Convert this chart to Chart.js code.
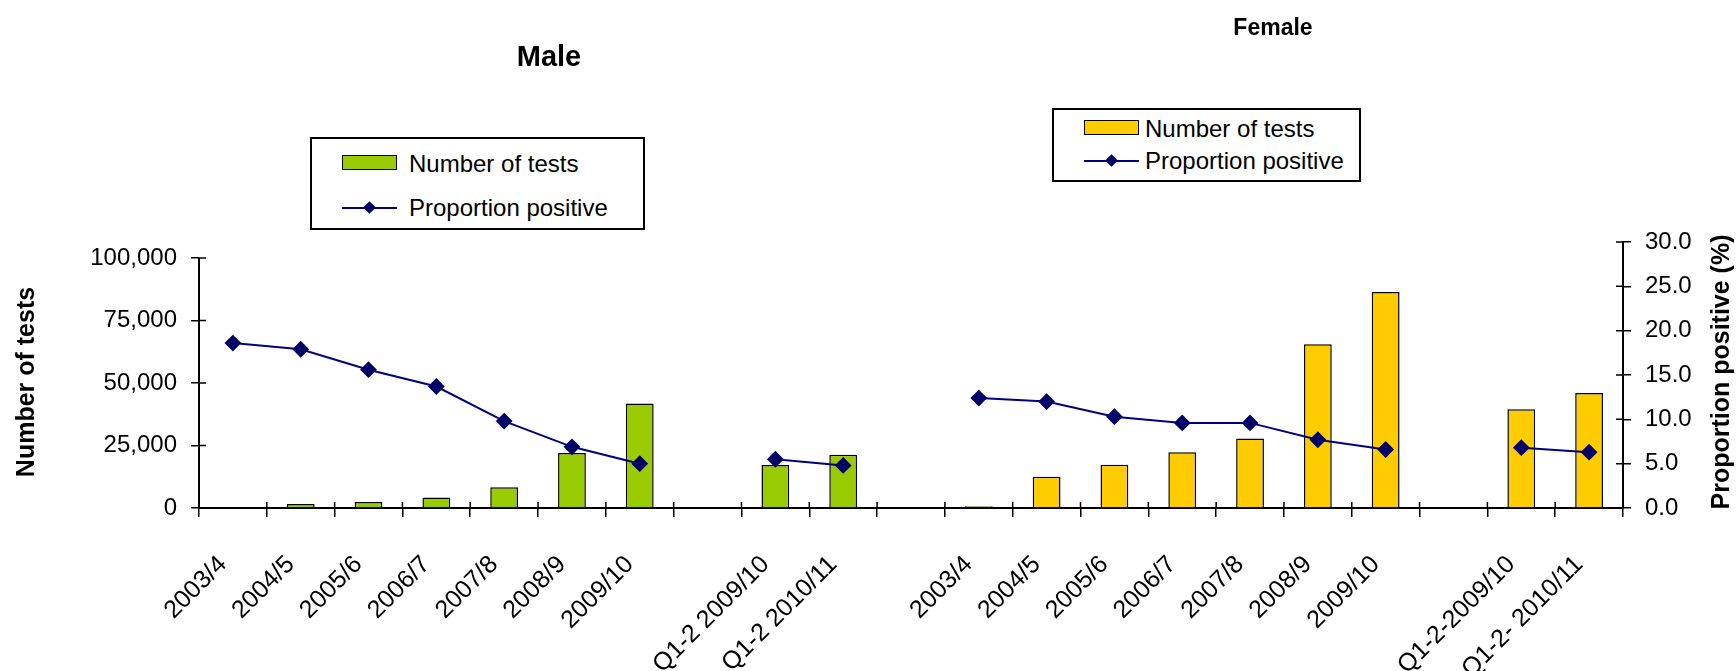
<!DOCTYPE html>
<html>
<head>
<meta charset="utf-8">
<script src="https://cdn.jsdelivr.net/npm/chart.js@4.4.1/dist/chart.umd.min.js"></script>
<style>
    body { margin: 0; background: #fff; overflow: hidden; font-family: "Liberation Sans", Arial, sans-serif; color: #000; }
    #wrap { position: relative; width: 1736px; height: 671px; }
    #myChart { position: absolute; left: 0; top: 0; }
    .title { position: absolute; font-weight: bold; white-space: nowrap; transform: translate(-50%, -50%); }
    .legend { position: absolute; border: 2px solid #000; background: #fff; box-sizing: border-box; }
    .item { position: absolute; font-size: 24px; white-space: nowrap; line-height: 1; }
    .swatch { position: absolute; width: 53px; height: 13px; border: 1.5px solid #000; }
    .lineSym { position: absolute; width: 55px; height: 2px; background: #000080; }
    .diamond { position: absolute; width: 9px; height: 9px; background: #000066; transform: rotate(45deg); left: 23px; top: -4px; }
</style>
</head>
<body>
<div id="wrap">
    <canvas id="myChart" width="1736" height="671"></canvas>

    <div class="title" style="left:549px; top:56px; font-size:29px;">Male</div>
    <div class="title" style="left:1273px; top:27px; font-size:23px;">Female</div>

    <!-- male legend -->
    <div class="legend" style="left:310px; top:137px; width:335px; height:93px;">
        <div class="swatch" id="maleSwatch" style="left:30px; top:16px;"></div>
        <div class="item" style="left:97px; top:13px;">Number of tests</div>
        <div class="lineSym" style="left:30px; top:68px;"><div class="diamond"></div></div>
        <div class="item" style="left:97px; top:57px;">Proportion positive</div>
    </div>

    <!-- female legend -->
    <div class="legend" style="left:1052px; top:108px; width:309px; height:74px;">
        <div class="swatch" id="femaleSwatch" style="left:30px; top:10px;"></div>
        <div class="item" style="left:91px; top:7px;">Number of tests</div>
        <div class="lineSym" style="left:30px; top:50px;"><div class="diamond"></div></div>
        <div class="item" style="left:91px; top:39px;">Proportion positive</div>
    </div>
</div>

<script>
// categories for each half of the chart
var maleYears = ['2003/4', '2004/5', '2005/6', '2006/7', '2007/8', '2008/9', '2009/10'];
var maleHalfYears = ['Q1-2 2009/10', 'Q1-2 2010/11'];
var femaleYears = ['2003/4', '2004/5', '2005/6', '2006/7', '2007/8', '2008/9', '2009/10'];
var femaleHalfYears = ['Q1-2-2009/10', 'Q1-2- 2010/11'];

// values (7 years then 2 half years)
var maleTests = [null, 1600, 2400, 4200, 8300, 22000, 41800, 17200, 21300];
var maleProportion = [18.6, 17.9, 15.6, 13.7, 9.8, 6.9, 5.0, 5.5, 4.8];
var femaleTests = [700, 12500, 17300, 22300, 27800, 65500, 86400, 39500, 46000];
var femaleProportion = [12.4, 12.0, 10.3, 9.6, 9.6, 7.7, 6.6, 6.8, 6.3];

// tick values
var testTicks = [0, 25000, 50000, 75000, 100000];
var proportionTicks = [0, 5, 10, 15, 20, 25, 30];

var maleColor = '#99CC00';
var femaleColor = '#FFCC00';
var lineColor = '#000080';
var fontFamily = '"Liberation Sans", Arial, sans-serif';

document.getElementById('maleSwatch').style.background = maleColor;
document.getElementById('femaleSwatch').style.background = femaleColor;

// put a blank slot between the years and the half years
function withGap(vals) {
    return vals.slice(0, 7).concat([null], vals.slice(7));
}
function blanks(n) {
    var out = [];
    for (var i = 0; i < n; i++) out.push(null);
    return out;
}

var labels = maleYears.concat([''], maleHalfYears, [''], femaleYears, [''], femaleHalfYears);
var maleBars = withGap(maleTests).concat(blanks(11));
var maleLine = withGap(maleProportion).concat(blanks(11));
var femaleBars = blanks(11).concat(withGap(femaleTests));
var femaleLine = blanks(11).concat(withGap(femaleProportion));

// axis titles, the left axis line (it stops at 100,000 while the right one goes to 30.0)
// and the inner half of the tick marks, which cross the axes in the original
var extras = {
    id: 'extras',
    afterDraw: function (chart) {
        var ctx = chart.ctx;
        var x = chart.scales.x;
        var y = chart.scales.y;
        var y1 = chart.scales.y1;
        var area = chart.chartArea;
        ctx.save();
        ctx.strokeStyle = '#000';
        ctx.lineWidth = 2;
        ctx.beginPath();
        ctx.moveTo(area.left, y.getPixelForValue(100000));
        ctx.lineTo(area.left, area.bottom);
        ctx.stroke();

        ctx.lineWidth = 1.5;
        ctx.beginPath();
        for (var i = 0; i <= labels.length; i++) {
            var px = x.getPixelForValue(i - 0.5);
            ctx.moveTo(px, area.bottom);
            ctx.lineTo(px, area.bottom - 6);
        }
        testTicks.forEach(function (v) {
            var py = y.getPixelForValue(v);
            ctx.moveTo(area.left, py);
            ctx.lineTo(area.left + 7, py);
        });
        proportionTicks.forEach(function (v) {
            var py = y1.getPixelForValue(v);
            ctx.moveTo(area.right, py);
            ctx.lineTo(area.right - 7, py);
        });
        ctx.stroke();

        ctx.fillStyle = '#000';
        ctx.font = 'bold 25px ' + fontFamily;
        ctx.textAlign = 'center';
        ctx.textBaseline = 'middle';
        ctx.translate(27, 382);
        ctx.rotate(-Math.PI / 2);
        ctx.fillText('Number of tests', 0, 0);
        ctx.restore();

        ctx.save();
        ctx.fillStyle = '#000';
        ctx.font = 'bold 25px ' + fontFamily;
        ctx.textAlign = 'center';
        ctx.textBaseline = 'middle';
        ctx.translate(1722, 372);
        ctx.rotate(-Math.PI / 2);
        ctx.fillText('Proportion positive (%)', 0, 0);
        ctx.restore();
    }
};

var barStyle = {
    borderColor: '#000',
    borderWidth: 1.5,
    barPercentage: 0.41,
    categoryPercentage: 1,
    grouped: false,
    yAxisID: 'y',
    order: 2
};
var lineStyle = {
    type: 'line',
    borderColor: lineColor,
    borderWidth: 2,
    pointStyle: 'rectRot',
    pointRadius: 7,
    pointBackgroundColor: '#000066',
    pointBorderColor: '#000066',
    spanGaps: false,
    tension: 0,
    yAxisID: 'y1',
    order: 1
};

var ctx = document.getElementById('myChart').getContext('2d');
var ComboChart = new Chart(ctx, {
    type: 'bar',
    data: {
        labels: labels,
        datasets: [
            Object.assign({ label: 'Male number of tests', data: maleBars, backgroundColor: maleColor }, barStyle),
            Object.assign({ label: 'Female number of tests', data: femaleBars, backgroundColor: femaleColor }, barStyle),
            Object.assign({ label: 'Male proportion positive', data: maleLine }, lineStyle),
            Object.assign({ label: 'Female proportion positive', data: femaleLine }, lineStyle)
        ]
    },
    options: {
        responsive: false,
        animation: false,
        devicePixelRatio: 1,
        layout: { padding: { top: 242, left: 0, right: 0, bottom: 0 } },
        plugins: {
            legend: { display: false },
            tooltip: { enabled: false }
        },
        scales: {
            x: {
                offset: true,
                grid: { offset: true, drawOnChartArea: false, drawTicks: true, tickLength: 9, color: '#000', lineWidth: 1.5 },
                border: { color: '#000', width: 2 },
                ticks: {
                    autoSkip: false, minRotation: 45, maxRotation: 45, padding: 33, labelOffset: -10,
                    color: '#000', font: { size: 25, family: fontFamily }
                },
                afterFit: function (scale) { scale.height = 163; }
            },
            y: {
                position: 'left',
                min: 0,
                max: 106400,
                afterBuildTicks: function (scale) {
                    scale.ticks = testTicks.map(function (v) { return { value: v }; });
                },
                grid: { drawOnChartArea: false, tickLength: 8, color: '#000', lineWidth: 1.5 },
                border: { display: false },
                ticks: {
                    padding: 14, color: '#000', font: { size: 24, family: fontFamily },
                    callback: function (v) { return v.toLocaleString('en-US'); }
                },
                afterFit: function (scale) { scale.width = 199; }
            },
            y1: {
                position: 'right',
                min: 0,
                max: 30,
                afterBuildTicks: function (scale) {
                    scale.ticks = proportionTicks.map(function (v) { return { value: v }; });
                },
                grid: { drawOnChartArea: false, tickLength: 8, color: '#000', lineWidth: 1.5 },
                border: { color: '#000', width: 2 },
                ticks: {
                    padding: 14, color: '#000', font: { size: 24, family: fontFamily },
                    callback: function (v) { return v.toFixed(1); }
                },
                afterFit: function (scale) { scale.width = 113; }
            }
        }
    },
    plugins: [extras]
});
</script>
</body>
</html>
